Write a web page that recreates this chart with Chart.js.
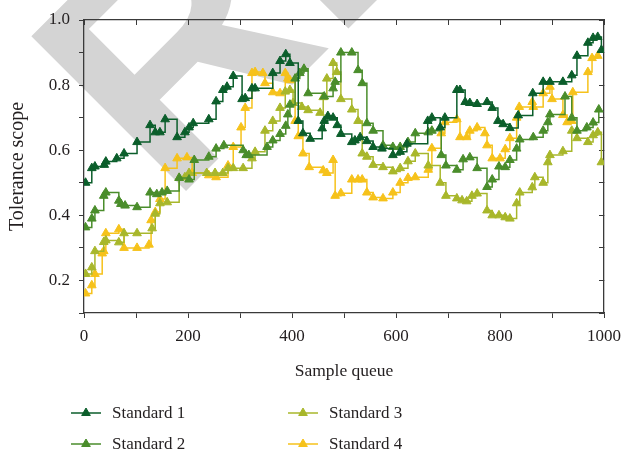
<!DOCTYPE html>
<html>
<head>
<meta charset="utf-8">
<script src="https://cdn.jsdelivr.net/npm/chart.js@4.4.0/dist/chart.umd.min.js"></script>
<style>
  html, body { margin: 0; padding: 0; background: #fff; }
  #grafica { display: block; }
</style>
</head>
<body>
<canvas id="grafica" width="623" height="454"></canvas>
<script>
// datos
var etiquetas = ['Standard 1', 'Standard 2', 'Standard 3', 'Standard 4'];
var colores = ['#0b5e2b', '#4a8d2b', '#a8b72b', '#f6c21b'];

var s1x = [3, 15, 21, 39, 42, 63, 77, 102, 127, 137, 146, 156, 179, 194, 202, 210, 240, 254, 267, 275, 287, 304, 310, 323, 329, 363, 377, 388, 396,
    412, 421, 435, 458, 462, 469, 479, 487, 494, 515, 521, 531, 544, 556, 573, 594, 608, 621, 661, 669, 685, 694, 717, 723, 733, 742, 756, 775, 785,
    796, 806, 819, 835, 863, 883, 896, 921, 938, 948, 969, 979, 988, 995];
var s1y = [0.50, 0.545, 0.55, 0.555, 0.565, 0.575, 0.59, 0.625, 0.677, 0.655, 0.655, 0.695, 0.64, 0.655, 0.67, 0.683, 0.695, 0.75, 0.785, 0.795, 0.828, 0.757, 0.76, 0.79, 0.79, 0.837, 0.874, 0.895, 0.868,
    0.69, 0.652, 0.635, 0.667, 0.69, 0.705, 0.70, 0.677, 0.65, 0.625, 0.63, 0.64, 0.628, 0.61, 0.605, 0.585, 0.595, 0.62, 0.69, 0.70, 0.67, 0.70, 0.785, 0.785, 0.748, 0.745, 0.742, 0.748, 0.73,
    0.69, 0.68, 0.668, 0.707, 0.775, 0.81, 0.81, 0.81, 0.83, 0.89, 0.93, 0.945, 0.948, 0.908];

var s2x = [3, 15, 21, 38, 42, 67, 71, 79, 102, 127, 140, 150, 160, 183, 202, 212, 240, 254, 269, 306, 312, 317, 352, 363, 377, 388, 392, 396, 406, 415, 423,
    431, 462, 479, 483, 494, 515, 527, 535, 544, 556, 575, 594, 608, 623, 637, 662, 669, 687, 696, 717, 729, 742, 756, 775, 785, 798, 810, 819, 832, 838,
    864, 883, 892, 896, 925, 938, 948, 967, 979, 990];
var s2y = [0.363, 0.39, 0.415, 0.46, 0.47, 0.445, 0.435, 0.43, 0.425, 0.47, 0.465, 0.47, 0.475, 0.515, 0.51, 0.57, 0.58, 0.605, 0.615, 0.60, 0.585, 0.585, 0.61, 0.63, 0.65, 0.675, 0.71, 0.74, 0.82, 0.837, 0.85,
    0.775, 0.765, 0.79, 0.81, 0.90, 0.90, 0.846, 0.806, 0.683, 0.66, 0.615, 0.61, 0.61, 0.625, 0.652, 0.655, 0.66, 0.585, 0.553, 0.54, 0.572, 0.578, 0.545, 0.487, 0.51, 0.55, 0.548, 0.57, 0.605, 0.633,
    0.64, 0.66, 0.686, 0.71, 0.765, 0.70, 0.66, 0.67, 0.685, 0.725];

var s3x = [3, 15, 21, 38, 42, 67, 77, 102, 131, 137, 146, 160, 183, 194, 202, 236, 252, 267, 277, 287, 306, 323, 329, 348, 363, 377, 387, 396, 402, 419, 431,
    454, 460, 467, 479, 486, 494, 515, 527, 535, 544, 556, 575, 594, 608, 623, 637, 662, 685, 696, 717, 727, 736, 746, 756, 775, 785, 798, 810, 819,
    832, 838, 862, 867, 883, 892, 896, 921, 938, 948, 969, 979, 988, 995];
var s3y = [0.22, 0.24, 0.29, 0.318, 0.323, 0.317, 0.345, 0.345, 0.36, 0.405, 0.437, 0.44, 0.515, 0.517, 0.53, 0.53, 0.53, 0.53, 0.545, 0.545, 0.545, 0.575, 0.595, 0.66, 0.69, 0.73, 0.78, 0.785, 0.745, 0.733, 0.723,
    0.715, 0.763, 0.82, 0.868, 0.84, 0.757, 0.725, 0.69, 0.59, 0.58, 0.555, 0.548, 0.535, 0.545, 0.566, 0.59, 0.553, 0.50, 0.46, 0.452, 0.446, 0.443, 0.46, 0.467, 0.415, 0.40, 0.40, 0.394, 0.39,
    0.437, 0.47, 0.486, 0.517, 0.50, 0.563, 0.585, 0.597, 0.66, 0.637, 0.625, 0.646, 0.655, 0.563];

var s4x = [3, 15, 21, 35, 38, 42, 67, 77, 102, 125, 129, 137, 146, 156, 179, 198, 208, 240, 254, 277, 287, 302, 310, 323, 329, 344, 348, 363, 377, 387, 392, 396,
    406, 412, 421, 433, 460, 467, 479, 483, 494, 515, 527, 535, 544, 556, 575, 594, 608, 623, 637, 662, 669, 687, 694, 717, 723, 736, 742, 756, 771, 775,
    785, 800, 810, 819, 832, 837, 862, 864, 883, 896, 900, 921, 929, 938, 940, 969, 977, 988];
var s4y = [0.16, 0.185, 0.22, 0.283, 0.29, 0.345, 0.357, 0.30, 0.30, 0.31, 0.385, 0.41, 0.45, 0.545, 0.575, 0.578, 0.53, 0.523, 0.517, 0.553, 0.61, 0.67, 0.73, 0.837, 0.84, 0.837, 0.806, 0.778, 0.775, 0.837, 0.82, 0.815,
    0.69, 0.643, 0.59, 0.548, 0.538, 0.53, 0.57, 0.46, 0.468, 0.51, 0.51, 0.51, 0.47, 0.455, 0.452, 0.47, 0.50, 0.515, 0.517, 0.54, 0.606, 0.652, 0.686, 0.695, 0.64, 0.64, 0.66, 0.67, 0.652, 0.615,
    0.575, 0.575, 0.603, 0.637, 0.70, 0.733, 0.748, 0.733, 0.775, 0.795, 0.757, 0.708, 0.686, 0.69, 0.778, 0.84, 0.883, 0.89];

var seriesX = [s1x, s2x, s3x, s4x];
var seriesY = [s1y, s2y, s3y, s4y];

var fuente = '"Liberation Serif", "Times New Roman", serif';
var colorTexto = '#231f20';
var colorEje = '#3a3a3a';

function puntos(xs, ys) {
    return xs.map(function (x, i) { return { x: x, y: ys[i] }; });
}

// marca de agua gris detras de todo
var marcaAgua = {
    id: 'marcaAgua',
    beforeDraw: function (chart) {
        var ctx = chart.ctx;
        ctx.save();
        ctx.translate(171, 206);
        ctx.rotate(-Math.PI / 4);
        ctx.fillStyle = '#d4d4d4';
        ctx.font = 'bold 318px "Liberation Sans", Arial, sans-serif';
        ctx.textBaseline = 'alphabetic';
        ctx.fillText('RETRACTED', 0, 0);
        ctx.restore();
    }
};

// leyenda en dos columnas, dibujada a mano
var leyenda = {
    id: 'leyenda',
    afterDraw: function (chart) {
        var ctx = chart.ctx;
        var pos = [[71, 413], [71, 444], [288, 413], [288, 444]];
        chart.data.datasets.forEach(function (ds, i) {
            var x = pos[i][0], y = pos[i][1];
            ctx.save();
            ctx.strokeStyle = ds.borderColor;
            ctx.lineWidth = 1.5;
            ctx.beginPath();
            ctx.moveTo(x, y);
            ctx.lineTo(x + 30, y);
            ctx.stroke();
            var r = 5, cx = x + 15;
            ctx.fillStyle = ds.backgroundColor;
            ctx.lineWidth = 1;
            ctx.beginPath();
            ctx.moveTo(cx, y - r);
            ctx.lineTo(cx + r * 0.866, y + r / 2);
            ctx.lineTo(cx - r * 0.866, y + r / 2);
            ctx.closePath();
            ctx.fill();
            ctx.stroke();
            ctx.fillStyle = colorTexto;
            ctx.font = '17px ' + fuente;
            ctx.textBaseline = 'middle';
            ctx.textAlign = 'left';
            ctx.fillText(ds.label, x + 41, y + 1);
            ctx.restore();
        });
    }
};

var datasets = etiquetas.map(function (nombre, i) {
    return {
        label: nombre,
        data: puntos(seriesX[i], seriesY[i]),
        borderColor: colores[i],
        backgroundColor: colores[i],
        borderWidth: 1.5,
        stepped: true,
        fill: false,
        pointStyle: 'triangle',
        pointRadius: 5,
        pointBorderWidth: 1,
        xAxisID: 'x',
        yAxisID: 'y'
    };
});

var grafica = new Chart(document.getElementById('grafica'), {
    type: 'line',
    data: { datasets: datasets },
    plugins: [marcaAgua, leyenda],
    options: {
        responsive: false,
        animation: false,
        layout: { padding: { top: 20, right: 19, bottom: 61, left: 0 } },
        plugins: {
            legend: { display: false },
            tooltip: { enabled: false }
        },
        scales: {
            x: {
                type: 'linear',
                min: 0,
                max: 1000,
                ticks: {
                    stepSize: 100,
                    autoSkip: false,
                    maxRotation: 0,
                    padding: 8,
                    color: colorTexto,
                    font: { family: fuente, size: 17 },
                    callback: function (v) { return v % 200 === 0 ? v : ''; }
                },
                grid: { drawOnChartArea: false, tickLength: 5, color: colorEje, lineWidth: 1 },
                border: { color: colorEje, width: 1.3 },
                title: {
                    display: true,
                    text: 'Sample queue',
                    color: colorTexto,
                    font: { family: fuente, size: 17.5 },
                    padding: { top: 4, bottom: 11 }
                },
                afterFit: function (s) { s.height = 80; s.paddingLeft = 0; s.paddingRight = 0; }
            },
            x2: {
                type: 'linear',
                position: 'top',
                min: 0,
                max: 1000,
                ticks: { display: false, stepSize: 100 },
                grid: { drawOnChartArea: false, tickLength: -5, color: colorEje, lineWidth: 1 },
                border: { color: colorEje, width: 1.3 },
                afterFit: function (s) { s.height = 0; s.paddingLeft = 0; s.paddingRight = 0; }
            },
            y: {
                min: 0.1,
                max: 1.0,
                ticks: {
                    stepSize: 0.1,
                    autoSkip: false,
                    padding: 9,
                    color: colorTexto,
                    font: { family: fuente, size: 17 },
                    callback: function (v) { return Math.round(v * 10) % 2 === 0 ? v.toFixed(1) : ''; }
                },
                grid: { drawOnChartArea: false, tickLength: 5, color: colorEje, lineWidth: 1 },
                border: { color: colorEje, width: 1.3 },
                title: {
                    display: true,
                    text: 'Tolerance scope',
                    color: colorTexto,
                    font: { family: fuente, size: 20 },
                    padding: { top: 6, bottom: 4 }
                },
                afterFit: function (s) { s.width = 84; }
            },
            y2: {
                position: 'right',
                min: 0.1,
                max: 1.0,
                ticks: { display: false, stepSize: 0.1 },
                grid: { drawOnChartArea: false, tickLength: -5, color: colorEje, lineWidth: 1 },
                border: { color: colorEje, width: 1.3 },
                afterFit: function (s) { s.width = 0; }
            }
        }
    }
});
</script>
</body>
</html>
